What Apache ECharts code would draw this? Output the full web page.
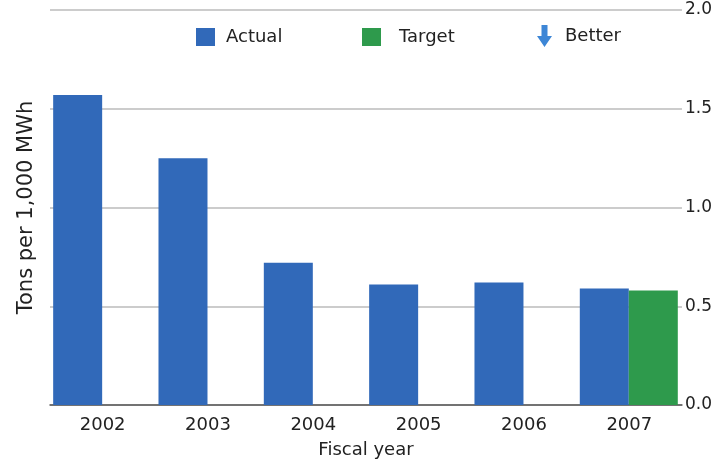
<!DOCTYPE html>
<html><head><meta charset="utf-8">
<script src="https://cdn.jsdelivr.net/npm/echarts@6/dist/echarts.min.js"></script>
<style>html,body{margin:0;padding:0;background:#fff}#c{width:715px;height:465px}</style>
</head><body><div id="c"></div>
<script>
var categories = ['2002','2003','2004','2005','2006','2007'];
var actualValues = [1.57, 1.25, 0.72, 0.61, 0.62, 0.59];
var targetValues = [null, null, null, null, null, 0.58];
var yTicks = [0, 0.5, 1.0, 1.5, 2.0];

var font = 'DejaVu Sans';
function legText(pad){ return {fontFamily: font, fontSize: 18, color: '#222', padding: [2,0,0,pad]}; }
var chart = echarts.init(document.getElementById('c'), null, {renderer:'canvas'});
chart.setOption({
  animation: false,
  textStyle: {fontFamily: font},
  legend: [
    {top: 28, left: 196, padding: 0, itemWidth: 19, itemHeight: 18, itemGap: 0, textStyle: legText(6),
     data: [{name: 'Actual', icon: 'rect'}]},
    {top: 28, left: 362, padding: 0, itemWidth: 19, itemHeight: 18, itemGap: 0, textStyle: legText(13),
     data: [{name: 'Target', icon: 'rect'}]},
    {top: 25, left: 537, padding: 0, itemWidth: 15, itemHeight: 22, itemGap: 0, textStyle: legText(8),
     data: [{name: 'Better', icon: 'path://M4.5,0 L10.5,0 L10.5,11 L15,11 L7.5,22 L0,11 L4.5,11 Z', itemStyle: {color: '#3d86d6'}}]}
  ],
  grid: {left: 50, right: 33, top: 10, bottom: 60},
  xAxis: {
    type: 'category', data: categories,
    name: 'Fiscal year', nameLocation: 'middle', nameGap: 36,
    nameTextStyle: {fontFamily: font, fontSize: 18, color: '#222'},
    axisLine: {lineStyle: {color: '#555', width: 1.5}},
    axisTick: {show: false},
    axisLabel: {fontFamily: font, fontSize: 18, color: '#222', margin: 11}
  },
  yAxis: [{
    type: 'value', position: 'right', min: 0, max: 2, interval: 0.5,
    axisLine: {show: false}, axisTick: {show: false},
    axisLabel: {fontFamily: font, fontSize: 17, color: '#222', margin: 3,
      formatter: function(v){ return yTicks.indexOf(v) >= 0 ? v.toFixed(1) : ''; }},
    splitLine: {lineStyle: {color: '#bbb', width: 1.5}}
  },{
    type: 'value', position: 'left', min: 0, max: 2, interval: 0.5,
    name: 'Tons per 1,000 MWh', nameLocation: 'middle', nameGap: 13,
    nameTextStyle: {fontFamily: font, fontSize: 21, color: '#222'},
    axisLine: {show: false}, axisTick: {show: false}, axisLabel: {show: false},
    splitLine: {show: false}
  }],
  series: [
    {name: 'Actual', type: 'bar', data: actualValues, barWidth: 49, barGap: '0%',
     itemStyle: {color: '#3169b9'}},
    {name: 'Target', type: 'bar', data: targetValues, barWidth: 49, barGap: '0%',
     itemStyle: {color: '#2e9a4c'}},
    {name: 'Better', type: 'bar', data: [], itemStyle: {color: '#3d86d6'}}
  ]
});
</script></body></html>
